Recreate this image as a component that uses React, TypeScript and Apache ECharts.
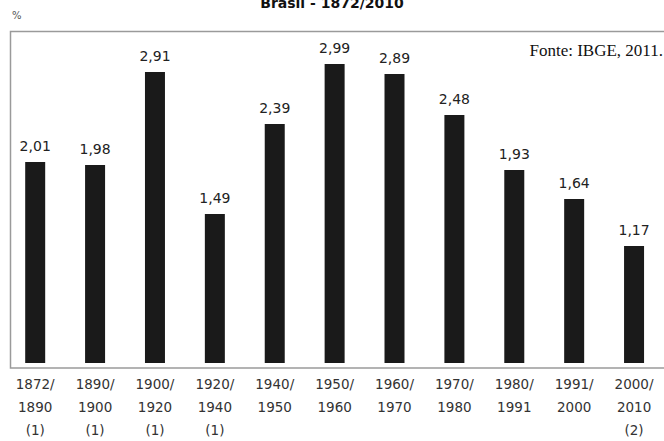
import React, { useEffect, useRef } from "react";
import * as echarts from "echarts";

const categories = [
  "1872/\n1890\n(1)",
  "1890/\n1900\n(1)",
  "1900/\n1920\n(1)",
  "1920/\n1940\n(1)",
  "1940/\n1950",
  "1950/\n1960",
  "1960/\n1970",
  "1970/\n1980",
  "1980/\n1991",
  "1991/\n2000",
  "2000/\n2010\n(2)",
];
const rates = [2.01, 1.98, 2.91, 1.49, 2.39, 2.99, 2.89, 2.48, 1.93, 1.64, 1.17];
const titleText = "Brasil - 1872/2010";
const sourceText = "Fonte: IBGE, 2011.";

export default function App() {
  const ref = useRef<HTMLDivElement>(null);
  useEffect(() => {
    if (!ref.current) return;
    const chart = echarts.init(ref.current, null, { renderer: "svg" });
    chart.setOption({
      animation: false,
      grid: { left: 5.25, width: 665.5, top: 33, bottom: 73 },
      xAxis: {
        type: "category",
        data: categories,
        axisLine: { show: false },
        axisTick: { show: false },
        axisLabel: {
          color: "#333",
          fontFamily: "DejaVu Sans",
          fontSize: 13.5,
          lineHeight: 23,
          margin: 9,
          interval: 0,
        },
      },
      yAxis: {
        type: "value",
        min: 0,
        max: 3.3,
        show: false,
        splitLine: { show: false },
      },
      graphic: [
        {
          type: "rect",
          shape: { x: 10.5, y: 31.5, width: 700, height: 336.5 },
          style: { fill: "none", stroke: "#9a9a9a", lineWidth: 1.5 },
          z: -1,
        },
        {
          type: "text",
          x: 332,
          y: 3,
          style: {
            text: titleText,
            fontFamily: "DejaVu Sans",
            fontWeight: "bold",
            fontSize: 14,
            fill: "#111",
            textAlign: "center",
            textVerticalAlign: "middle",
          },
        },
        {
          type: "text",
          x: 12,
          y: 15,
          style: {
            text: "%",
            fontFamily: "DejaVu Sans",
            fontSize: 10,
            fill: "#555",
            textVerticalAlign: "middle",
          },
        },
        {
          type: "text",
          x: 663,
          y: 50,
          style: {
            text: sourceText,
            fontFamily: "Liberation Serif",
            fontSize: 17,
            fill: "#111",
            textAlign: "right",
            textVerticalAlign: "middle",
          },
        },
      ],
      series: [
        {
          type: "bar",
          data: rates,
          barWidth: 20,
          itemStyle: { color: "#1a1a1a" },
          label: {
            show: true,
            position: "top",
            distance: 9,
            color: "#222",
            fontFamily: "DejaVu Sans",
            fontSize: 14,
            formatter: (p: any) => p.value.toFixed(2).replace(".", ","),
          },
        },
      ],
    });
    return () => chart.dispose();
  }, []);
  return <div ref={ref} style={{ width: 664, height: 441, position: "absolute", left: 0, top: 0 }} />;
}
